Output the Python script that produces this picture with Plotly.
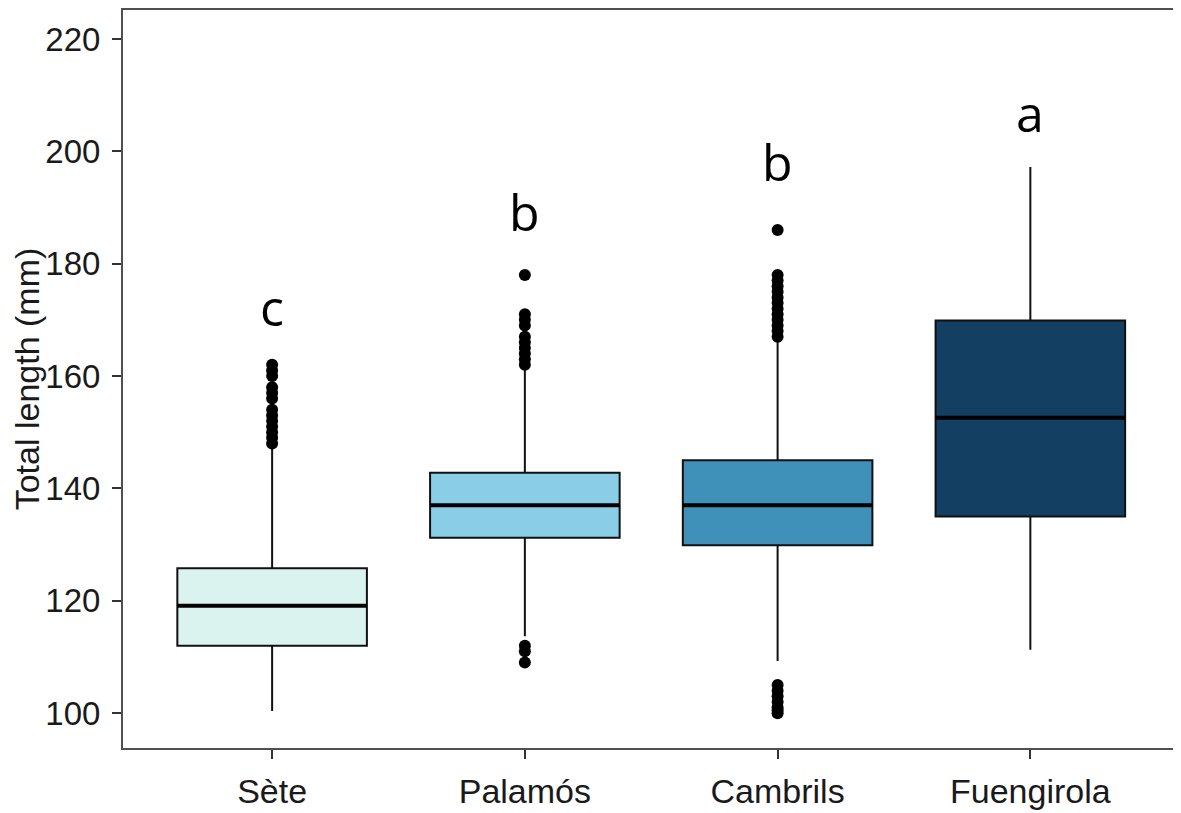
import plotly.graph_objects as go

# sites and five-number summaries (mm)
sites = ["Sète", "Palamós", "Cambrils", "Fuengirola"]
lower_fence = [100.4, 113.7, 109.3, 111.3]
q1 = [112.0, 131.2, 129.9, 135.0]
median = [119.1, 137.0, 137.0, 152.6]
q3 = [125.8, 142.8, 145.0, 169.9]
upper_fence = [147.3, 161.5, 166.8, 197.2]

# outlier points per site
outliers_sete = [148, 149, 150, 151, 152, 153, 154, 156, 157, 158, 160, 161, 162]
outliers_palamos = [109, 111, 112, 162, 163, 164, 165, 166, 167, 169, 170, 171, 178]
outliers_cambrils = [100, 100.5, 101, 102, 103, 104, 105, 167, 168, 169, 170, 171,
                     172, 173, 174, 175, 176, 177, 178, 186]
outliers_fuengirola = []
outliers = [outliers_sete, outliers_palamos, outliers_cambrils, outliers_fuengirola]

# significance letters and where their baseline sits
letters = ["c", "b", "b", "a"]
letter_y = [168.5, 185.5, 194.3, 203.0]

colors = ["#daf3ef", "#89cde6", "#4091ba", "#133f63"]

box_w = 0.75
fig = go.Figure()

for i, s in enumerate(sites):
    fig.add_trace(go.Box(
        x=[i], q1=[q1[i]], median=[median[i]], q3=[q3[i]],
        lowerfence=[lower_fence[i]], upperfence=[upper_fence[i]],
        width=box_w, fillcolor=colors[i], whiskerwidth=0,
        line=dict(color="#111111", width=2), boxpoints=False,
        showlegend=False, hoverinfo="skip"))
    # thick median bar like ggplot
    fig.add_trace(go.Scatter(
        x=[i - box_w / 2, i + box_w / 2], y=[median[i], median[i]],
        mode="lines", line=dict(color="#000000", width=4),
        showlegend=False, hoverinfo="skip"))
    if outliers[i]:
        fig.add_trace(go.Scatter(
            x=[i] * len(outliers[i]), y=outliers[i], mode="markers",
            marker=dict(color="#000000", size=12),
            showlegend=False, hoverinfo="skip"))
    fig.add_annotation(x=i, y=letter_y[i], text=letters[i], showarrow=False,
                       yanchor="bottom", yshift=-15,
                       font=dict(family="Open Sans", size=50, color="#000000"))

fig.update_layout(
    width=1181, height=813,
    margin=dict(l=115, r=7, t=0, b=73),
    paper_bgcolor="white", plot_bgcolor="white",
    font=dict(family="Liberation Sans, Arial", color="#1a1a1a"),
)
fig.update_xaxes(
    range=[-0.59, 3.6], tickvals=list(range(len(sites))), ticktext=sites,
    showgrid=False, zeroline=False, showline=True, mirror=True,
    linecolor="#505050", linewidth=2, ticks="outside", ticklen=9,
    tickwidth=1.5, tickcolor="#333333", tickfont=dict(size=34),
    ticklabelstandoff=3)
fig.update_yaxes(
    range=[93.8, 225.15], tickvals=[100, 120, 140, 160, 180, 200, 220],
    showgrid=False, zeroline=False, showline=True, mirror=True,
    linecolor="#505050", linewidth=2, ticks="outside", ticklen=9,
    tickwidth=1.5, tickcolor="#333333", tickfont=dict(size=33),
    ticklabelstandoff=5, automargin=False,
    title=dict(text="Total length (mm)", font=dict(size=34), standoff=12))

fig.write_html("out.html")
